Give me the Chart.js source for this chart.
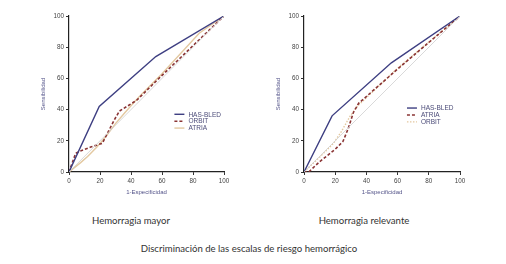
<!DOCTYPE html>
<html>
<head>
<meta charset="utf-8">
<script src="https://cdn.jsdelivr.net/npm/chart.js@4.4.1/dist/chart.umd.min.js"></script>
<style>
  html, body { margin: 0; padding: 0; background: #fff; }
  body { width: 506px; height: 264px; position: relative; overflow: hidden; font-family: Lato, "Open Sans", sans-serif; }
  .box { position: absolute; }
  .cap { position: absolute; color: #333; font-size: 9.6px; white-space: nowrap; transform: translateX(-50%); }
</style>
</head>
<body>
<div class="box" style="left:20px;top:0;width:215px;height:200px"><canvas id="left" width="215" height="200"></canvas></div>
<div class="box" style="left:255px;top:0;width:215px;height:200px"><canvas id="right" width="215" height="200"></canvas></div>
<div class="cap" style="left:131px;top:215px">Hemorragia mayor</div>
<div class="cap" style="left:364px;top:215px">Hemorragia relevante</div>
<div class="cap" style="left:249px;top:243px">Discriminación de las escalas de riesgo hemorrágico</div>

<script>
// ROC curves: x = 1-Especificidad, y = Sensibilidad
const ticks = [0, 20, 40, 60, 80, 100];
const diagonal = [[0, 0], [100, 100]];

// Hemorragia mayor
const mayorHasBled = [[0, 0], [19.5, 42], [56, 74], [100, 100]];
const mayorOrbit = [[0, 0], [4.3, 12], [8.6, 14], [14, 16], [21.5, 18.4], [29, 33], [32.5, 39], [43.7, 46], [58, 60], [100, 100]];
const mayorAtria = [[0, 0], [7.5, 6], [12, 10], [18, 16], [24, 23], [30, 31], [36, 38], [45, 48], [60, 63], [84, 89], [100, 100]];

// Hemorragia relevante
const relevHasBled = [[0, 0], [18, 36], [56, 70], [100, 100]];
const relevAtria = [[0, 0], [3, 0], [10, 6.6], [20, 14.6], [25, 19.6], [28.4, 28], [31.6, 38], [35, 44], [60, 66], [100, 100]];
const relevOrbit = [[0, 0], [10, 9.5], [19, 18.5], [24, 26], [29.5, 35.7], [34, 42], [60, 66.5], [100, 100]];

const NAVY = '#3e3f82';
const RED = '#8a3434';
const TAN = '#e3c8a0';

function pts(arr) { return arr.map(p => ({ x: p[0], y: p[1] })); }

// legend drawn inside the plot, anchored in data units
const insideLegend = {
  id: 'insideLegend',
  afterDatasetsDraw(chart, args, opts) {
    const { ctx, scales } = chart;
    let y = scales.y.getPixelForValue(opts.y);
    const x = scales.x.getPixelForValue(opts.x);
    ctx.save();
    ctx.font = '6.5px "Liberation Sans", Arial, sans-serif';
    ctx.textBaseline = 'middle';
    chart.data.datasets.forEach(ds => {
      if (ds.label === 'ref') return;
      ctx.strokeStyle = ds.borderColor;
      ctx.lineWidth = ds.borderWidth;
      ctx.setLineDash(ds.borderDash || []);
      ctx.beginPath();
      ctx.moveTo(x, y);
      ctx.lineTo(x + 10, y);
      ctx.stroke();
      ctx.setLineDash([]);
      ctx.fillStyle = '#4b4b78';
      ctx.fillText(ds.label, x + 14, y + 0.5);
      y += 6.9;
    });
    ctx.restore();
  }
};

function makeChart(id, series, legendAt, padRight) {
  const datasets = [{
    label: 'ref', data: pts(diagonal), borderColor: '#cfcfcf', borderWidth: 0.8, pointRadius: 0
  }];
  series.forEach(s => datasets.push({
    label: s.label, data: pts(s.data), borderColor: s.color, borderWidth: s.width,
    borderDash: s.dash, pointRadius: 0, tension: 0
  }));
  return new Chart(document.getElementById(id), {
    type: 'line',
    data: { datasets },
    options: {
      responsive: false,
      animation: false,
      layout: { padding: { top: 16, right: padRight, left: 0, bottom: 0 } },
      plugins: { legend: { display: false }, tooltip: { enabled: false }, insideLegend: legendAt },
      scales: {
        x: {
          type: 'linear', min: 0, max: 100,
          afterBuildTicks: s => { s.ticks = ticks.map(v => ({ value: v })); },
          afterFit: s => { s.height = 28; },
          grid: { drawOnChartArea: false, color: '#333', tickLength: 3, lineWidth: 1 },
          border: { color: '#222', width: 1.2 },
          ticks: { color: '#444', font: { size: 6.3, family: 'Liberation Sans' }, padding: 2, maxRotation: 0 },
          title: { display: true, text: '1-Especificidad', color: '#55558a', font: { size: 6, family: 'Liberation Sans' }, padding: { top: 1 } }
        },
        y: {
          min: 0, max: 100,
          afterBuildTicks: s => { s.ticks = ticks.map(v => ({ value: v })); },
          afterFit: s => { s.width = 49; },
          grid: { drawOnChartArea: false, color: '#333', tickLength: 3, lineWidth: 1 },
          border: { color: '#222', width: 1.2 },
          ticks: { color: '#444', font: { size: 6.3, family: 'Liberation Sans' }, padding: 2 },
          title: { display: true, text: 'Sensibilidad', color: '#55558a', font: { size: 6, family: 'Liberation Sans' }, padding: { top: 20, bottom: 0 } }
        }
      }
    },
    plugins: [insideLegend]
  });
}

makeChart('left', [
  { label: 'HAS-BLED', data: mayorHasBled, color: NAVY, width: 1.4 },
  { label: 'ORBIT', data: mayorOrbit, color: RED, width: 1.6, dash: [3, 2] },
  { label: 'ATRIA', data: mayorAtria, color: TAN, width: 1.4 }
], { x: 68, y: 37 }, 11);

makeChart('right', [
  { label: 'HAS-BLED', data: relevHasBled, color: NAVY, width: 1.4 },
  { label: 'ATRIA', data: relevAtria, color: RED, width: 1.6, dash: [3, 2] },
  { label: 'ORBIT', data: relevOrbit, color: TAN, width: 1.4, dash: [1.5, 1.5] }
], { x: 66, y: 41 }, 10);
</script>
</body>
</html>
